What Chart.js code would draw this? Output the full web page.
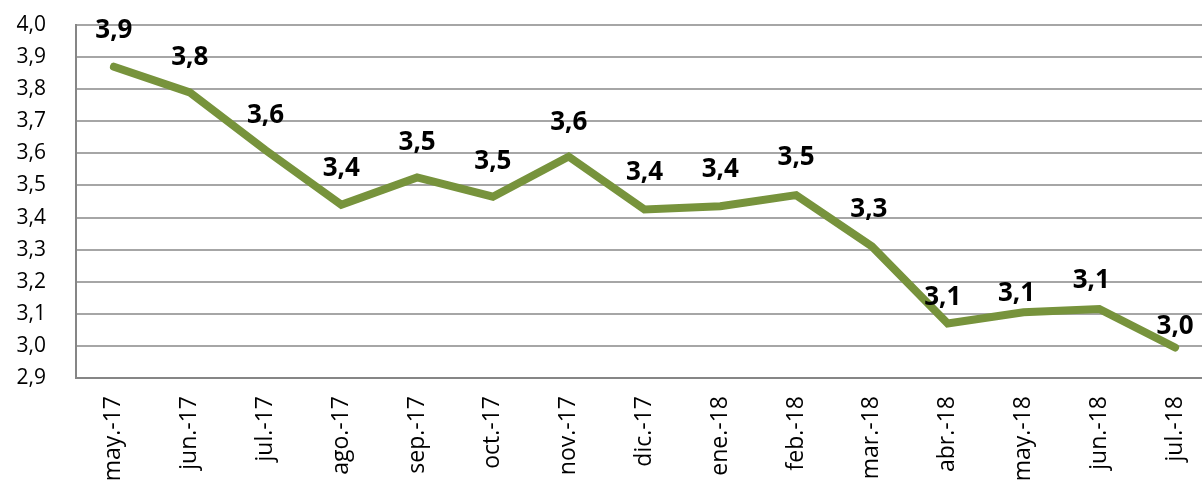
<!DOCTYPE html>
<html>
<head>
<meta charset="utf-8">
<script src="https://cdn.jsdelivr.net/npm/chart.js@4/dist/chart.umd.min.js"></script>
<style>
  html, body { margin: 0; padding: 0; background: #fff; overflow: hidden; }
  #wrap { position: absolute; left: 0; top: 0; width: 1213px; height: 490px; }
</style>
</head>
<body>
<div id="wrap"><canvas id="chart"></canvas></div>
<script>
// Datos
const meses = ['may.-17', 'jun.-17', 'jul.-17', 'ago.-17', 'sep.-17', 'oct.-17', 'nov.-17',
               'dic.-17', 'ene.-18', 'feb.-18', 'mar.-18', 'abr.-18', 'may.-18', 'jun.-18', 'jul.-18'];
const valores = [3.87, 3.79, 3.61, 3.44, 3.525, 3.465, 3.59, 3.425, 3.435, 3.47, 3.31, 3.07, 3.105, 3.115, 2.995];

const yMin = 2.9;
const yMax = 4.0;
const yStep = 0.1;

// desplazamiento de las etiquetas de datos (px)
const etiquetaDx = [0, 0, 0, 0, 0, 0, 0, 0, 0, 0, -3, -5, -7, -8, 0];
const etiquetaDy = [-36, -35, -35, -36, -35, -35, -34, -37, -37, -37, -37, -26, -19, -28, -21];

const fmt = v => v.toFixed(1).replace('.', ',');

// Etiquetas de datos sobre cada punto
const etiquetasPlugin = {
    id: 'etiquetas',
    afterDatasetsDraw(chart) {
        const ctx = chart.ctx;
        const meta = chart.getDatasetMeta(0);
        ctx.save();
        ctx.font = 'bold 26px "Open Sans"';
        ctx.fillStyle = '#000';
        ctx.textAlign = 'center';
        ctx.textBaseline = 'middle';
        meta.data.forEach((pt, i) => {
            ctx.fillText(fmt(valores[i]), pt.x + etiquetaDx[i], pt.y + etiquetaDy[i]);
        });
        ctx.restore();
    }
};

const ctx = document.getElementById('chart').getContext('2d');
new Chart(ctx, {
    type: 'line',
    data: {
        labels: meses,
        datasets: [{
            data: valores,
            borderColor: '#77933C',
            borderWidth: 8,
            borderCapStyle: 'round',
            borderJoinStyle: 'miter',
            pointRadius: 0,
            tension: 0,
            fill: false
        }]
    },
    options: {
        responsive: true,
        maintainAspectRatio: false,
        animation: false,
        layout: { padding: { top: 25, left: 0, right: 0, bottom: 0 } },
        plugins: {
            legend: { display: false },
            tooltip: { enabled: false }
        },
        scales: {
            x: {
                offset: true,
                grid: { display: false, drawTicks: false },
                border: { display: true, color: '#868686', width: 2 },
                ticks: {
                    minRotation: 90,
                    maxRotation: 90,
                    padding: 18,
                    color: '#000',
                    font: { family: 'Open Sans', size: 23 }
                },
                afterFit(scale) {
                    scale.height = 112;
                    scale.paddingLeft = 0;
                    scale.paddingRight = 0;
                    scale.paddingTop = 0;
                    scale.paddingBottom = 0;
                }
            },
            y: {
                min: yMin,
                max: yMax,
                grid: { color: '#a6a6a6', lineWidth: 2, drawTicks: false },
                border: { display: true, color: '#868686', width: 2 },
                ticks: {
                    stepSize: yStep,
                    padding: 30,
                    color: '#000',
                    font: { family: 'Open Sans', size: 21 },
                    callback: v => fmt(v)
                },
                afterFit(scale) {
                    scale.width = 76;
                    scale.paddingTop = 0;
                    scale.paddingBottom = 0;
                    scale.paddingLeft = 0;
                    scale.paddingRight = 0;
                }
            }
        }
    },
    plugins: [etiquetasPlugin]
});
</script>
</body>
</html>
